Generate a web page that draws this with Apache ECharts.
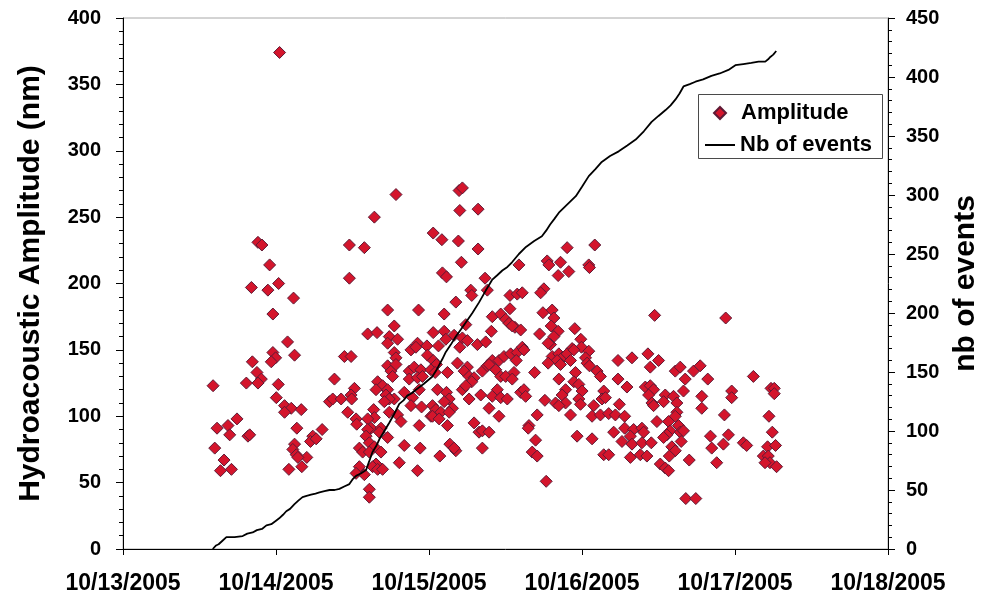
<!DOCTYPE html>
<html><head><meta charset="utf-8">
<script src="https://cdn.jsdelivr.net/npm/echarts/dist/echarts.min.js"></script>
<style>html,body{margin:0;padding:0;background:#fff}#c{width:985px;height:604px}</style>
</head><body><div id="c"></div>
<script>
// x values are hours after 10/13/2005 00:00
const dateLabels = ['10/13/2005','10/14/2005','10/15/2005','10/16/2005','10/17/2005','10/18/2005'];
const amplitudeTicks = [0,50,100,150,200,250,300,350,400];
const eventTicks = [0,50,100,150,200,250,300,350,400,450];
const seriesNames = ['Amplitude','Nb of events'];
const axisTitles = ['Hydroacoustic Amplitude (nm)','nb of events'];

// [hours, amplitude nm]
const amplitudeSamples = [
[24.56,374],[21.17,231],[21.79,229],[23.00,214],[20.14,197],[22.73,195],[24.41,200],[26.75,189],[23.51,177],[25.81,156],
[23.51,148],[23.94,144],[23.26,141],[26.91,146],[20.29,141],[21.01,133],[21.70,128],[21.17,125],[19.35,125],[14.13,123],
[24.36,124],[24.05,114],[25.34,108],[26.39,106],[25.34,103],[27.96,105],[33.17,128],[32.39,111],[32.90,113],[17.88,98],
[14.75,91],[16.47,93],[16.74,86],[19.60,85],[19.87,86],[27.27,91],[29.77,85],[31.24,90],[29.41,81],[30.30,83],
[14.39,76],[26.91,79],[26.64,75],[27.18,71],[28.83,69],[27.43,69],[15.85,67],[15.29,59],[17.01,60],[26.02,60],
[28.05,62],[42.82,267],[39.43,250],[35.51,229],[37.86,227],[35.51,204],[41.51,180],[46.36,180],[42.55,168],[38.38,162],
[39.85,163],[41.77,160],[43.07,158],[41.51,155],[42.55,148],[42.82,144],[45.17,150],[46.20,155],[45.95,152],[47.67,153],
[47.76,146],[34.73,145],[35.78,145],[41.51,138],[42.04,134],[42.82,139],[42.29,130],[44.90,134],[45.68,137],[46.73,135],
[44.90,128],[46.20,129],[46.98,130],[39.94,126],[40.72,123],[39.69,120],[41.51,120],[41.26,116],[36.30,121],[35.78,116],
[34.22,113],[35.87,113],[42.55,113],[41.77,113],[40.99,111],[44.12,118],[46.47,120],[45.42,114],[45.17,108],[46.83,107],
[35.25,103],[39.32,105],[39.43,99],[38.38,98],[41.77,103],[43.07,101],[36.56,98],[36.66,94],[43.60,96],[48.30,100],
[38.91,91],[40.47,91],[40.21,88],[41.51,84],[38.38,90],[46.47,93],[38.13,85],[38.64,80],[39.43,77],[37.08,76],
[37.59,73],[38.64,73],[44.12,78],[46.62,76],[40.47,73],[43.34,65],[39.69,64],[39.16,62],[39.94,60],[40.72,60],
[37.08,62],[36.56,57],[37.86,56],[46.20,59],[38.64,45],[38.64,39],[52.72,270],[53.24,272],[52.83,255],[55.70,256],
[48.66,238],[50.02,233],[52.61,232],[55.70,226],[53.08,216],[50.11,208],[50.74,205],[56.79,204],[62.11,214],[54.55,195],
[54.71,191],[57.15,195],[52.21,186],[60.70,191],[61.84,192],[60.70,181],[50.38,177],[57.93,175],[59.25,177],[60.03,173],
[60.55,170],[61.48,167],[61.06,168],[53.77,169],[48.66,163],[50.38,164],[57.78,164],[51.94,161],[50.64,158],[53.24,159],
[54.02,157],[49.49,153],[52.83,152],[55.59,154],[56.90,156],[48.66,142],[49.17,139],[48.30,135],[48.97,133],[52.46,140],
[54.02,137],[53.51,134],[54.29,130],[55.07,129],[54.71,126],[56.37,134],[57.15,138],[57.93,142],[57.42,139],[58.98,142],
[59.76,145],[60.81,147],[61.84,148],[61.69,142],[58.47,135],[59.25,130],[60.03,130],[61.33,133],[61.06,128],[50.89,133],
[53.24,120],[53.77,123],[49.33,120],[50.74,118],[51.16,113],[50.38,111],[56.12,116],[54.29,113],[58.72,120],[57.93,115],
[59.25,114],[60.28,113],[62.38,118],[48.55,108],[49.08,105],[49.86,103],[51.68,106],[51.16,103],[48.55,100],[49.59,98],
[57.42,106],[58.98,100],[50.89,93],[55.07,95],[55.85,88],[56.37,89],[57.42,88],[51.27,79],[52.21,74],[51.94,76],
[56.37,76],[49.70,70],[69.67,227],[74.00,229],[66.54,217],[66.80,214],[68.63,216],[69.93,209],[68.26,206],[73.06,214],
[73.17,212],[66.02,196],[65.51,193],[62.63,193],[65.87,178],[67.32,180],[67.59,174],[67.16,168],[68.26,164],[67.59,160],
[67.07,154],[66.69,155],[65.35,162],[70.87,166],[71.81,158],[71.92,152],[73.06,149],[70.45,151],[62.38,165],[62.63,152],
[62.89,150],[67.32,145],[68.37,147],[68.88,144],[68.10,142],[69.67,147],[70.20,142],[68.63,139],[66.69,140],[70.72,150],
[72.55,144],[72.80,140],[73.17,138],[74.36,134],[74.89,130],[70.98,133],[70.72,126],[71.50,124],[72.01,119],[64.57,133],
[68.37,128],[62.89,120],[63.16,115],[69.42,120],[68.88,116],[69.42,110],[67.85,110],[68.37,108],[71.50,113],[71.76,109],
[75.41,119],[75.14,113],[75.67,114],[66.18,112],[73.84,108],[70.20,101],[73.58,100],[74.89,101],[76.19,102],[64.97,101],
[63.68,93],[63.57,91],[64.72,82],[71.23,85],[73.58,83],[64.19,73],[64.97,70],[75.41,71],[76.19,71],[66.38,51],
[83.39,176],[77.65,142],[79.84,144],[82.34,147],[84.01,142],[82.71,137],[86.63,134],[87.41,137],[88.19,128],[89.49,134],
[90.54,138],[77.65,128],[79.05,122],[81.93,122],[82.71,123],[83.23,120],[82.45,116],[82.97,110],[83.23,108],[85.06,116],
[86.36,115],[84.80,111],[86.88,110],[87.92,119],[90.79,115],[90.79,106],[77.86,109],[77.24,101],[78.69,100],[86.88,103],
[86.63,100],[83.75,96],[85.58,96],[87.14,93],[85.84,89],[85.31,86],[84.80,84],[87.41,88],[87.92,89],[76.97,88],
[78.69,91],[80.10,90],[81.40,91],[81.67,88],[78.27,81],[79.59,85],[79.84,79],[81.40,80],[82.87,80],[86.09,77],
[87.56,81],[86.63,74],[79.59,69],[81.15,71],[82.18,70],[85.69,70],[84.28,64],[85.06,61],[85.58,59],[88.82,67],
[88.28,38],[89.85,38],[94.54,174],[91.73,128],[98.88,130],[95.48,119],[95.48,114],[101.65,121],[102.16,121],[102.16,117],
[94.34,101],[101.33,100],[101.85,88],[92.15,85],[94.97,86],[94.18,79],[92.35,76],[97.31,80],[97.83,78],[101.11,77],
[102.36,78],[100.44,70],[101.22,70],[101.49,65],[100.71,65],[102.52,62],[93.13,65]
];

// [hours, cumulative number of events]
const eventCountSamples = [
[14.08,0],[14.60,3],[15.00,4],[15.60,7],[16.22,10],[17.50,10],[18.77,11],[19.50,13],[20.34,14],[21.00,16],[21.80,17],[22.50,20],[23.26,21],
[24.00,24],[24.50,26],[25.10,29],[25.61,32],[26.20,34],[26.90,38],[27.50,41],[28.16,44],[28.80,45],[29.50,46],[30.20,47],[30.82,48],
[31.60,49],[32.40,50],[33.20,50],[33.95,51],[34.70,53],[35.51,55],[36.00,59],[36.56,62],[37.30,64],[38.13,67],[38.60,74],[39.12,82],
[39.70,87],[40.21,93],[41.00,100],[41.77,107],[42.50,114],[43.34,123],[44.00,126],[44.60,130],[45.30,132],[45.95,135],[47.20,140],[48.50,146],
[49.10,151],[49.60,156],[50.10,161],[50.64,167],[51.40,173],[52.21,180],[53.00,186],[53.77,192],[54.80,200],[55.85,209],[56.90,219],[57.89,228],
[58.70,232],[59.50,236],[60.30,239],[61.02,243],[62.10,250],[63.21,256],[64.50,261],[65.71,265],[66.40,270],[67.00,275],[67.70,280],[68.37,285],
[69.70,292],[71.03,299],[72.00,307],[73.06,316],[74.10,322],[75.10,328],[76.40,333],[77.76,337],[79.10,342],[80.42,347],[81.70,354],[82.92,362],
[84.00,367],[85.11,372],[85.90,376],[86.67,381],[87.30,386],[87.92,392],[88.90,394],[89.80,396],[91.00,398],[92.30,401],[93.60,403],[94.97,406],
[96.06,410],[97.30,411],[98.56,412],[99.70,413],[100.75,413],[101.20,415],[101.54,417],[102.00,419],[102.47,422]
];

const FONT = '"Liberation Sans", Arial, Helvetica, sans-serif';
const chart = echarts.init(document.getElementById('c'), null, {renderer: 'canvas'});

const scatterData = amplitudeSamples.map(p => [p[0], p[1]]);
const lineData = eventCountSamples.map(p => [p[0], p[1]]);

const yAxisCommon = {
  type: 'value',
  nameLocation: 'middle',
  nameRotate: 90,
  nameTextStyle: {fontFamily: FONT, fontWeight: 'bold', fontSize: 30, color: '#000'},
  axisLine: {show: true, lineStyle: {color: '#000', width: 1}},
  axisTick: {show: true, inside: false, length: 7, lineStyle: {color: '#000'}},
  minorTick: {show: true, splitNumber: 5, length: 4, lineStyle: {color: '#000'}},
  splitLine: {show: false},
  minorSplitLine: {show: false},
  axisLabel: {fontFamily: FONT, fontWeight: 'bold', fontSize: 20, color: '#000'}
};

const legendText = {fontFamily: FONT, fontWeight: 'bold', fontSize: 22, color: '#000'};

chart.setOption({
  animation: false,
  backgroundColor: '#fff',
  grid: {left: 123, right: 97, top: 18, bottom: 55, show: true, borderColor: '#a8a8a8', borderWidth: 1, backgroundColor: 'transparent', containLabel: false, outerBoundsMode: 'none'},
  graphic: [{
    type: 'rect', left: 698, top: 94, z: 3,
    shape: {width: 184, height: 64},
    style: {fill: '#fff', stroke: '#4a4a4a', lineWidth: 1}
  }],
  legend: [
    {
      orient: 'vertical', left: 713, top: 102, z: 5,
      itemWidth: 12, itemHeight: 12, padding: 0,
      selectedMode: false,
      textStyle: Object.assign({}, legendText, {padding: [0, 0, 0, 10]}),
      data: [{name: seriesNames[0], icon: 'diamond'}]
    },
    {
      orient: 'vertical', left: 705, top: 134, z: 5,
      itemWidth: 30, itemHeight: 2, padding: 0,
      selectedMode: false,
      textStyle: legendText,
      data: [{name: seriesNames[1], icon: 'rect', itemStyle: {color: '#000'}}]
    }
  ],
  xAxis: {
    type: 'value', min: 0, max: 120, interval: 24,
    axisLine: {show: true, onZero: false, lineStyle: {color: '#000', width: 1}},
    axisTick: {show: true, inside: false, length: 6, lineStyle: {color: '#000'}},
    splitLine: {show: false},
    axisLabel: {
      fontFamily: FONT, fontWeight: 'bold', fontSize: 23, color: '#000', margin: 23,
      showMinLabel: true, showMaxLabel: true, hideOverlap: false,
      formatter: v => dateLabels[Math.round(v / 24)] || ''
    }
  },
  yAxis: [
    Object.assign({}, yAxisCommon, {
      position: 'left', min: amplitudeTicks[0], max: amplitudeTicks[amplitudeTicks.length - 1], interval: 50,
      name: axisTitles[0], nameGap: 77,
      axisLabel: Object.assign({}, yAxisCommon.axisLabel, {margin: 22})
    }),
    Object.assign({}, yAxisCommon, {
      position: 'right', min: eventTicks[0], max: eventTicks[eventTicks.length - 1], interval: 50,
      name: axisTitles[1], nameGap: 62,
      axisLabel: Object.assign({}, yAxisCommon.axisLabel, {margin: 18})
    })
  ],
  series: [
    {
      name: seriesNames[0], type: 'scatter', yAxisIndex: 0, xAxisIndex: 0,
      symbol: 'diamond', symbolSize: 12, z: 2,
      itemStyle: {color: '#d4152c', borderColor: '#5e1a35', borderWidth: 1, opacity: 1},
      emphasis: {disabled: true},
      data: scatterData
    },
    {
      name: seriesNames[1], type: 'line', yAxisIndex: 1, xAxisIndex: 0,
      symbol: 'none', showSymbol: false, z: 3,
      lineStyle: {color: '#000', width: 1.8},
      itemStyle: {color: '#000'},
      emphasis: {disabled: true},
      data: lineData
    }
  ]
});
</script>
</body></html>
